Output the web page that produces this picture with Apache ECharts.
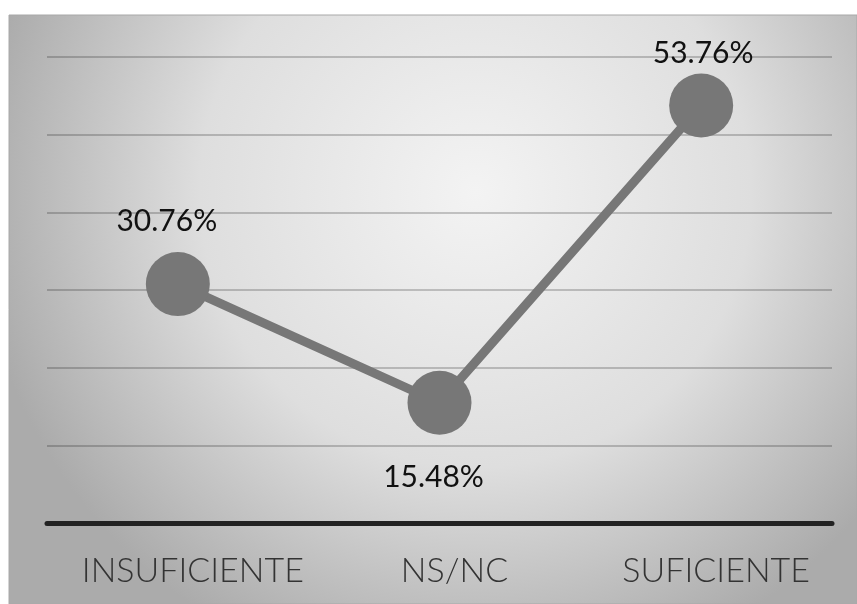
<!DOCTYPE html>
<html>
<head>
<meta charset="utf-8">
<script src="https://cdn.jsdelivr.net/npm/echarts@6/dist/echarts.min.js"></script>
<style>
  html, body { margin: 0; padding: 0; background: #fff; }
  #chart { width: 857px; height: 604px; }
</style>
</head>
<body>
<div id="chart"></div>
<script>
const categories = ["INSUFICIENTE", "NS/NC", "SUFICIENTE"];
const values = [30.76, 15.48, 53.76];
// label placement per point (position, distance, x shift)
const labelPlacement = [
  { position: "top", distance: 16, offset: [-11, 0] },
  { position: "bottom", distance: 28, offset: [-6, 0] },
  { position: "top", distance: 5, offset: [2, 0] }
];

const chart = echarts.init(document.getElementById("chart"));
chart.setOption({
  backgroundColor: "#ffffff",
  animation: false,
  graphic: [{
    type: "rect",
    z: -10,
    silent: true,
    shape: { x: 9, y: 15, width: 848, height: 589 },
    style: {
      fill: {
        type: "radial", x: 0.55, y: 0.3, r: 0.85,
        colorStops: [
          { offset: 0, color: "#f3f3f3" },
          { offset: 0.55, color: "#dedede" },
          { offset: 1, color: "#ababab" }
        ]
      },
      stroke: "#a8a8a8",
      lineWidth: 1
    }
  }],
  grid: { left: 47, right: 25, top: 57, bottom: 81 },
  xAxis: {
    type: "category",
    data: categories,
    axisTick: { show: false },
    axisLine: { lineStyle: { color: "#222", width: 5 } },
    axisLabel: {
      color: "#333", fontFamily: "Lato", fontWeight: 300, fontSize: 34,
      margin: 31, interval: 0, padding: [0, 0, 0, 30]
    }
  },
  yAxis: {
    type: "value",
    min: 0, max: 60, interval: 10,
    axisLabel: { show: false },
    axisLine: { show: false },
    axisTick: { show: false },
    splitLine: { lineStyle: { color: "rgba(0,0,0,0.2)", width: 2 } }
  },
  series: [{
    type: "line",
    data: values.map((v, i) => ({
      value: v,
      label: {
        position: labelPlacement[i].position,
        distance: labelPlacement[i].distance,
        offset: labelPlacement[i].offset
      }
    })),
    symbol: "circle",
    symbolSize: 64,
    lineStyle: { color: "#777", width: 9 },
    itemStyle: { color: "#777" },
    label: {
      show: true,
      color: "#111",
      fontFamily: "Lato",
      fontSize: 30,
      formatter: p => p.value.toFixed(2) + "%"
    }
  }]
});
</script>
</body>
</html>
